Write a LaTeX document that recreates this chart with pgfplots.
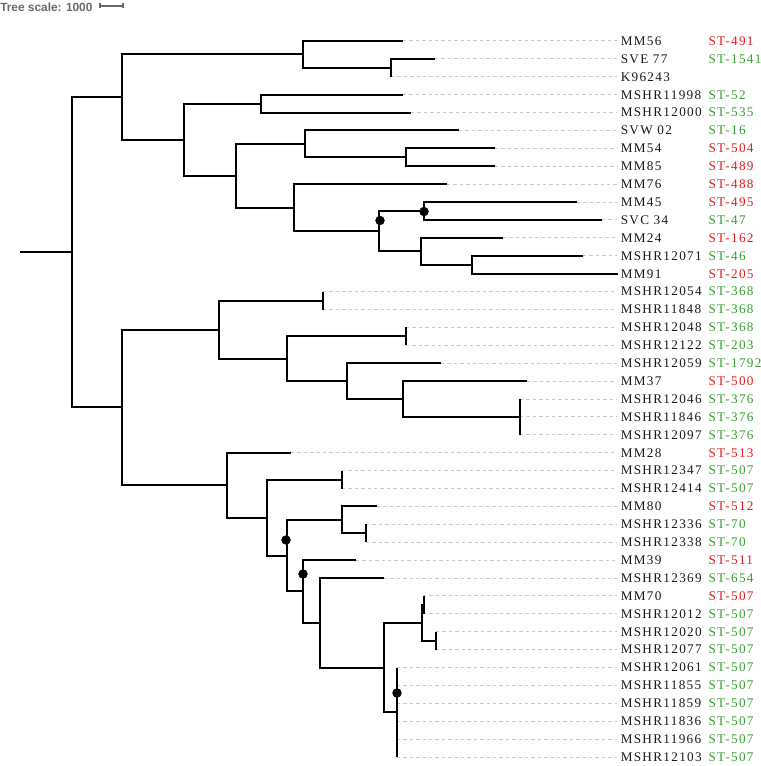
\documentclass[border=0pt]{standalone}
\usepackage{pgfplots}
\pgfplotsset{compat=1.18}
\usepackage{fontspec}
\setmainfont{Liberation Serif}
\newfontfamily\labfont{Liberation Serif}[LetterSpace=10]
\newfontfamily\scalefont{Liberation Sans}
\definecolor{stred}{RGB}{227,26,28}
\definecolor{stgreen}{RGB}{51,160,44}
\definecolor{leader}{RGB}{200,200,200}
\definecolor{scalegray}{RGB}{105,105,105}
\pgfplotsset{br/.style={black, line width=1.5pt, line join=miter}}
\newcommand\nm[2]{\node[anchor=west,inner sep=0pt,text=black!90,font=\labfont\fontsize{9.9}{12}\selectfont] at (axis cs:620.5,#1) {#2};}
\newcommand\stR[2]{\node[anchor=west,inner sep=0pt,text=stred,font=\labfont\fontsize{9.9}{12}\selectfont] at (axis cs:708.3,#1) {#2};}
\newcommand\stG[2]{\node[anchor=west,inner sep=0pt,text=stgreen,font=\labfont\fontsize{9.9}{12}\selectfont] at (axis cs:708.3,#1) {#2};}
\begin{document}
\begin{tikzpicture}
\begin{axis}[scale only axis, width=570pt, height=574.5pt,
  xmin=0, xmax=760, ymin=0, ymax=766, y dir=reverse,
  hide axis, clip=false, unbounded coords=jump]
\path (axis cs:0,0) rectangle (axis cs:760,766);
% leader lines (leaf tip -> label)
\addplot[leader, line width=0.75pt, dash pattern=on 2.5pt off 2.3pt] coordinates {
(403,41.0) (617,41.0) (nan,nan)
(435,58.9) (617,58.9) (nan,nan)
(391,76.8) (617,76.8) (nan,nan)
(403,94.7) (617,94.7) (nan,nan)
(411,112.6) (617,112.6) (nan,nan)
(459,130.5) (617,130.5) (nan,nan)
(495,148.4) (617,148.4) (nan,nan)
(495,166.3) (617,166.3) (nan,nan)
(447,184.2) (617,184.2) (nan,nan)
(577,202.1) (617,202.1) (nan,nan)
(602,220.0) (617,220.0) (nan,nan)
(503,237.9) (617,237.9) (nan,nan)
(583,255.8) (617,255.8) (nan,nan)
(323,291.6) (617,291.6) (nan,nan)
(323,309.5) (617,309.5) (nan,nan)
(406,327.4) (617,327.4) (nan,nan)
(406,345.3) (617,345.3) (nan,nan)
(441,363.2) (617,363.2) (nan,nan)
(527,381.1) (617,381.1) (nan,nan)
(520,399.0) (617,399.0) (nan,nan)
(520,416.9) (617,416.9) (nan,nan)
(520,434.8) (617,434.8) (nan,nan)
(291,452.7) (617,452.7) (nan,nan)
(342,470.6) (617,470.6) (nan,nan)
(342,488.5) (617,488.5) (nan,nan)
(377,506.4) (617,506.4) (nan,nan)
(366,524.3) (617,524.3) (nan,nan)
(366,542.2) (617,542.2) (nan,nan)
(356,560.1) (617,560.1) (nan,nan)
(384,578.0) (617,578.0) (nan,nan)
(423,595.9) (617,595.9) (nan,nan)
(423,613.8) (617,613.8) (nan,nan)
(436,631.7) (617,631.7) (nan,nan)
(436,649.6) (617,649.6) (nan,nan)
(397,667.5) (617,667.5) (nan,nan)
(397,685.4) (617,685.4) (nan,nan)
(397,703.3) (617,703.3) (nan,nan)
(397,721.2) (617,721.2) (nan,nan)
(397,739.1) (617,739.1) (nan,nan)
(397,757.0) (617,757.0)
};
% root stem
\addplot[br] coordinates {(20,252.2) (72,252.2)};
% internal nodes: child1 -> node -> child2
\addplot[br] coordinates {(435,58.9) (391,58.9) (391,76.8)};          % D
\addplot[br] coordinates {(403,41.0) (303,41.0) (303,67.85) (391,67.85)}; % C
\addplot[br] coordinates {(403,94.7) (261,94.7) (261,112.6) (411,112.6)}; % F
\addplot[br] coordinates {(495,148.4) (406,148.4) (406,166.3) (495,166.3)}; % I
\addplot[br] coordinates {(459,130.5) (305,130.5) (305,157.35) (406,157.35)}; % H
\addplot[br] coordinates {(577,202.1) (424,202.1) (424,220.0) (602,220.0)}; % L
\addplot[br] coordinates {(583,255.8) (472,255.8) (472,273.7) (618,273.7)}; % N
\addplot[br] coordinates {(503,237.9) (421,237.9) (421,264.75) (472,264.75)}; % M
\addplot[br] coordinates {(424,211.05) (379,211.05) (379,251.3) (421,251.3)}; % K
\addplot[br] coordinates {(447,184.2) (294,184.2) (294,231.2) (379,231.2)}; % J
\addplot[br] coordinates {(305,143.9) (236,143.9) (236,207.7) (294,207.7)}; % G
\addplot[br] coordinates {(261,103.65) (184,103.65) (184,175.8) (236,175.8)}; % E
\addplot[br] coordinates {(303,54.4) (122,54.4) (122,139.7) (184,139.7)}; % B
\addplot[br] coordinates {(323,291.6) (323,309.5)}; % Q
\addplot[br] coordinates {(406,327.4) (406,345.3)}; % S
\addplot[br] coordinates {(520,399.0) (520,434.8)}; % V
\addplot[br] coordinates {(527,381.1) (403,381.1) (403,416.9) (520,416.9)}; % U
\addplot[br] coordinates {(441,363.2) (347,363.2) (347,399.0) (403,399.0)}; % T
\addplot[br] coordinates {(406,336.35) (287,336.35) (287,381.1) (347,381.1)}; % R
\addplot[br] coordinates {(323,300.55) (219,300.55) (219,358.7) (287,358.7)}; % P
\addplot[br] coordinates {(342,470.6) (342,488.5)}; % Z
\addplot[br] coordinates {(366,524.3) (366,542.2)}; % AC
\addplot[br] coordinates {(377,506.4) (342,506.4) (342,533.25) (366,533.25)}; % AB
\addplot[br] coordinates {(423.5,595.9) (423.5,613.8)}; % AJ
\addplot[br] coordinates {(436,631.7) (436,649.6)}; % AI
\addplot[br] coordinates {(423.5,604.85) (422,604.85) (422,640.65) (436,640.65)}; % AH
\addplot[br] coordinates {(397,667.5) (397,757.0)}; % AK
\addplot[br] coordinates {(422,622.75) (384,622.75) (384,712.25) (397,712.25)}; % AG
\addplot[br] coordinates {(384,578.0) (320,578.0) (320,667.5) (384,667.5)}; % AF
\addplot[br] coordinates {(356,560.1) (303,560.1) (303,622.75) (320,622.75)}; % AD
\addplot[br] coordinates {(342,519.8) (287,519.8) (287,591.4) (303,591.4)}; % AA
\addplot[br] coordinates {(342,479.55) (267,479.55) (267,555.6) (287,555.6)}; % Y
\addplot[br] coordinates {(291,452.7) (227,452.7) (227,517.6) (267,517.6)}; % X
\addplot[br] coordinates {(219,329.6) (122,329.6) (122,485.15) (227,485.15)}; % W
\addplot[br] coordinates {(122,97.05) (72,97.05) (72,407.4) (122,407.4)}; % A
% support markers
\addplot[only marks, mark=*, mark size=3.3pt, black] coordinates {
(380,220.5) (424,211.5) (286,540) (303,574) (397,693)};
% tree scale bar
\addplot[scalegray, line width=0.8pt] coordinates {(100,6) (123,6)};
\addplot[scalegray, line width=0.8pt] coordinates {(100,3.5) (100,8.5)};
\addplot[scalegray, line width=0.8pt] coordinates {(123,3.5) (123,8.5)};
\addplot[scalegray, line width=0.6pt] coordinates {(111.5,5) (111.5,7)};
\node[anchor=west,inner sep=0pt,text=scalegray,font=\scalefont\bfseries\fontsize{8.9}{10}\selectfont] at (axis cs:0,7.5) {Tree scale: 1000};
% leaf names
\nm{41.0}{MM56}        \stR{41.0}{ST-491}
\nm{58.9}{SVE 77}      \stG{58.9}{ST-1541}
\nm{76.8}{K96243}
\nm{94.7}{MSHR11998}   \stG{94.7}{ST-52}
\nm{112.6}{MSHR12000}  \stG{112.6}{ST-535}
\nm{130.5}{SVW 02}     \stG{130.5}{ST-16}
\nm{148.4}{MM54}       \stR{148.4}{ST-504}
\nm{166.3}{MM85}       \stR{166.3}{ST-489}
\nm{184.2}{MM76}       \stR{184.2}{ST-488}
\nm{202.1}{MM45}       \stR{202.1}{ST-495}
\nm{220.0}{SVC 34}     \stG{220.0}{ST-47}
\nm{237.9}{MM24}       \stR{237.9}{ST-162}
\nm{255.8}{MSHR12071}  \stG{255.8}{ST-46}
\nm{273.7}{MM91}       \stR{273.7}{ST-205}
\nm{291.6}{MSHR12054}  \stG{291.6}{ST-368}
\nm{309.5}{MSHR11848}  \stG{309.5}{ST-368}
\nm{327.4}{MSHR12048}  \stG{327.4}{ST-368}
\nm{345.3}{MSHR12122}  \stG{345.3}{ST-203}
\nm{363.2}{MSHR12059}  \stG{363.2}{ST-1792}
\nm{381.1}{MM37}       \stR{381.1}{ST-500}
\nm{399.0}{MSHR12046}  \stG{399.0}{ST-376}
\nm{416.9}{MSHR11846}  \stG{416.9}{ST-376}
\nm{434.8}{MSHR12097}  \stG{434.8}{ST-376}
\nm{452.7}{MM28}       \stR{452.7}{ST-513}
\nm{470.6}{MSHR12347}  \stG{470.6}{ST-507}
\nm{488.5}{MSHR12414}  \stG{488.5}{ST-507}
\nm{506.4}{MM80}       \stR{506.4}{ST-512}
\nm{524.3}{MSHR12336}  \stG{524.3}{ST-70}
\nm{542.2}{MSHR12338}  \stG{542.2}{ST-70}
\nm{560.1}{MM39}       \stR{560.1}{ST-511}
\nm{578.0}{MSHR12369}  \stG{578.0}{ST-654}
\nm{595.9}{MM70}       \stR{595.9}{ST-507}
\nm{613.8}{MSHR12012}  \stG{613.8}{ST-507}
\nm{631.7}{MSHR12020}  \stG{631.7}{ST-507}
\nm{649.6}{MSHR12077}  \stG{649.6}{ST-507}
\nm{667.5}{MSHR12061}  \stG{667.5}{ST-507}
\nm{685.4}{MSHR11855}  \stG{685.4}{ST-507}
\nm{703.3}{MSHR11859}  \stG{703.3}{ST-507}
\nm{721.2}{MSHR11836}  \stG{721.2}{ST-507}
\nm{739.1}{MSHR11966}  \stG{739.1}{ST-507}
\nm{757.0}{MSHR12103}  \stG{757.0}{ST-507}
\end{axis}
\pgfresetboundingbox
\path (current axis.south west) rectangle (current axis.north east);
\end{tikzpicture}
\end{document}
